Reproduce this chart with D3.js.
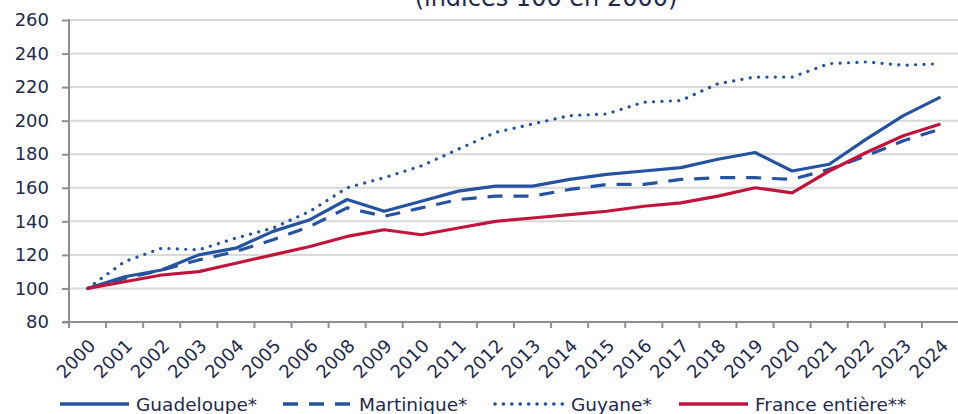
<!DOCTYPE html>
<html lang="fr">
<head>
<meta charset="utf-8">
<script src="https://d3js.org/d3.v7.min.js"></script>
<style>
  body { margin: 0; background: #fff; }
  svg text { font-family: "DejaVu Sans", Verdana, sans-serif; fill: #1f2a4d; }
  .grid line { stroke: #d9d9d9; stroke-width: 2px; }
  .axis path, .axis line { stroke: #8e8e98; stroke-width: 2px; }
  .line { fill: none; stroke-width: 3.2px; stroke-linejoin: round; }
</style>
</head>
<body>
<svg width="958" height="414"></svg>
<script>
// categories (2007 absent de la serie)
var years = ["2000","2001","2002","2003","2004","2005","2006","2008","2009","2010","2011","2012",
             "2013","2014","2015","2016","2017","2018","2019","2020","2021","2022","2023","2024"];

var guadeloupe = [100,107,111,120,124,134,141,153,146,152,158,161,161,165,168,170,172,177,181,170,174,189,203,214];
var martinique = [100,106,111,117,122,129,137,148,143,148,153,155,155,159,162,162,165,166,166,165,171,179,188,195];
var guyane     = [100,116,124,123,130,136,146,160,166,173,183,193,198,203,204,211,212,222,226,226,234,235,233,234];
var france     = [100,104,108,110,115,120,125,131,135,132,136,140,142,144,146,149,151,155,160,157,170,181,191,198];

var yTicks = [80,100,120,140,160,180,200,220,240,260];

var series = [
  {name: "Guadeloupe*", values: guadeloupe, color: "#2553a0", dash: null},
  {name: "Martinique*", values: martinique, color: "#2553a0", dash: "15 11"},
  {name: "Guyane*", values: guyane, color: "#2553a0", dash: "0.1 8.3", cap: "round"},
  {name: "France enti\u00e8re**", values: france, color: "#c0143c", dash: null}
];

var svg = d3.select("svg");
var plotLeft = 69, plotRight = 959, plotTop = 20, plotBottom = 322;

var x = d3.scaleBand().domain(years).range([plotLeft, plotRight]);
var y = d3.scaleLinear().domain([80, 260]).range([plotBottom, plotTop]);

// titre (coupé en haut)
svg.append("text")
  .attr("x", 546).attr("y", 6)
  .attr("text-anchor", "middle")
  .style("font-size", "24px")
  .text("(indices 100 en 2000)");

// grille
svg.append("g").attr("class", "grid")
  .selectAll("line").data(yTicks.slice(1)).enter().append("line")
  .attr("x1", plotLeft).attr("x2", 958)
  .attr("y1", function(d) { return y(d); })
  .attr("y2", function(d) { return y(d); });

// axe y
var yAxis = svg.append("g").attr("class", "axis")
  .attr("transform", "translate(" + plotLeft + ",0)")
  .call(d3.axisLeft(y).tickValues(yTicks).tickSize(7).tickPadding(13));
yAxis.select(".domain").attr("d", "M0," + (plotTop - 1) + "V" + plotBottom);
yAxis.selectAll("text").style("font-size", "18px").attr("fill", "#1f2a4d");

// axe x
var xAxis = svg.append("g").attr("class", "axis")
  .attr("transform", "translate(0," + plotBottom + ")")
  .call(d3.axisBottom(x).tickSize(0).tickFormat(""));
xAxis.select(".domain").attr("d", "M" + (plotLeft - 7) + ",0H958");
xAxis.selectAll(".tick").remove();

svg.append("g").attr("class", "axis")
  .selectAll("line").data(d3.range(years.length + 1)).enter().append("line")
  .attr("x1", function(i) { return plotLeft + i * x.step(); })
  .attr("x2", function(i) { return plotLeft + i * x.step(); })
  .attr("y1", plotBottom).attr("y2", plotBottom + 6);

svg.append("g")
  .selectAll("text").data(years).enter().append("text")
  .attr("text-anchor", "end")
  .style("font-size", "18px")
  .attr("transform", function(d) {
    return "translate(" + (x(d) + x.bandwidth() / 2 + 9) + "," + (plotBottom + 25) + ") rotate(-45)";
  })
  .text(function(d) { return d; });

// courbes
var line = d3.line()
  .x(function(d, i) { return x(years[i]) + x.bandwidth() / 2; })
  .y(function(d) { return y(d); });

series.forEach(function(s) {
  svg.append("path")
    .datum(s.values)
    .attr("class", "line")
    .attr("d", line)
    .attr("stroke", s.color)
    .attr("stroke-dasharray", s.dash)
    .attr("stroke-linecap", s.cap || "butt")
    .attr("stroke-width", s.cap ? 3.6 : 3.2);
});

// legende
var legendX = [60, 283, 495, 679];
var leg = svg.append("g");
series.forEach(function(s, i) {
  var g = leg.append("g").attr("transform", "translate(" + legendX[i] + ",404)");
  g.append("line")
    .attr("x1", 0).attr("x2", 69).attr("y1", 0).attr("y2", 0)
    .attr("stroke", s.color)
    .attr("stroke-width", s.cap ? 3.6 : 3.4)
    .attr("stroke-dasharray", s.dash)
    .attr("stroke-linecap", s.cap || "butt");
  g.append("text")
    .attr("x", 76).attr("y", 7)
    .style("font-size", "18.5px")
    .text(s.name);
});
</script>
</body>
</html>
